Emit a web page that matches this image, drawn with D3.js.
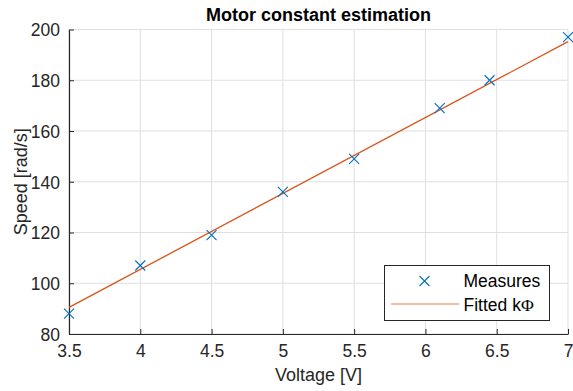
<!DOCTYPE html>
<html><head><meta charset="utf-8">
<script src="https://cdn.jsdelivr.net/npm/d3@7"></script>
<style>body{margin:0;background:#fff;} svg{display:block;font-family:"Liberation Sans",Arial,sans-serif;}</style>
</head><body>
<script>
const voltage = [3.5, 4, 4.5, 5, 5.5, 6.1, 6.45, 7];
const speed = [88, 107, 119, 136, 149, 169, 180, 197];
const fitX = [3.5, 7];
const fitY = [90.5, 195.2];
const xTicks = [3.5, 4, 4.5, 5, 5.5, 6, 6.5, 7];
const yTicks = [80, 100, 120, 140, 160, 180, 200];
const title = "Motor constant estimation";
const xLabel = "Voltage [V]";
const yLabel = "Speed [rad/s]";
const legendLabels = ["Measures", "Fitted kΦ"];

const W = 573, H = 391;
const m = {left: 69, right: 5, top: 29.5, bottom: 57};
const svg = d3.select("body").append("svg").attr("width", W).attr("height", H);
const x = d3.scaleLinear().domain([3.5, 7]).range([m.left, W - m.right]);
const y = d3.scaleLinear().domain([80, 200]).range([H - m.bottom, m.top]);
const axisCol = "#262626", gridCol = "#dfdfdf";
const blue = "#0072BD", orange = "#D95319";
const ff = '"Liberation Sans",Arial,sans-serif';

// grid
svg.append("g").selectAll("line").data(xTicks).join("line")
  .attr("x1", d => x(d)).attr("x2", d => x(d)).attr("y1", y(80)).attr("y2", y(200))
  .attr("stroke", gridCol).attr("stroke-width", 1);
svg.append("g").selectAll("line").data(yTicks).join("line")
  .attr("x1", x(3.5)).attr("x2", x(7)).attr("y1", d => y(d)).attr("y2", d => y(d))
  .attr("stroke", gridCol).attr("stroke-width", 1);

// axes
const xAxis = d3.axisBottom(x).tickValues(xTicks).tickSizeInner(-5).tickSizeOuter(0).tickPadding(11).tickFormat(d3.format("~g"));
const yAxis = d3.axisLeft(y).tickValues(yTicks).tickSizeInner(-5).tickSizeOuter(0).tickPadding(9).tickFormat(d3.format("~g"));
const gx = svg.append("g").attr("transform", `translate(0,${y(80)})`).call(xAxis);
const gy = svg.append("g").attr("transform", `translate(${x(3.5)},0)`).call(yAxis);
[gx, gy].forEach(g => {
  g.attr("font-size", 17.5).attr("font-family", ff);
  g.select(".domain").attr("stroke", axisCol).attr("stroke-width", 1.2);
  g.selectAll(".tick line").attr("stroke", axisCol).attr("stroke-width", 1);
  g.selectAll(".tick text").attr("fill", axisCol);
});
gx.selectAll(".tick text").attr("dy", "0.71em");
gy.selectAll(".tick text").attr("dy", "0.36em");

// fitted line
svg.append("path").datum(fitX.map((v, i) => [v, fitY[i]]))
  .attr("d", d3.line().x(d => x(d[0])).y(d => y(d[1])))
  .attr("fill", "none").attr("stroke", orange).attr("stroke-width", 1.3);

// markers
const s = 5;
const crossPath = (cx, cy) => `M${cx - s},${cy - s}L${cx + s},${cy + s}M${cx - s},${cy + s}L${cx + s},${cy - s}`;
svg.append("g").selectAll("path").data(voltage.map((v, i) => [v, speed[i]])).join("path")
  .attr("d", d => crossPath(x(d[0]), y(d[1])))
  .attr("stroke", blue).attr("stroke-width", 1.1).attr("fill", "none");

// title and labels
svg.append("text").attr("x", (x(3.5) + x(7)) / 2).attr("y", 21).attr("text-anchor", "middle")
  .attr("font-weight", "bold").attr("font-size", 18).attr("fill", "#000").text(title);
svg.append("text").attr("x", (x(3.5) + x(7)) / 2).attr("y", 381).attr("text-anchor", "middle")
  .attr("font-size", 18).attr("fill", axisCol).text(xLabel);
svg.append("text").attr("transform", `translate(27,${(y(80) + y(200)) / 2}) rotate(-90)`).attr("text-anchor", "middle")
  .attr("font-size", 18).attr("fill", axisCol).text(yLabel);

// legend
const lg = svg.append("g");
lg.append("rect").attr("x", 384.5).attr("y", 265.5).attr("width", 165).attr("height", 55)
  .attr("fill", "#fff").attr("stroke", axisCol).attr("stroke-width", 1);
lg.append("path").attr("d", crossPath(424.5, 281)).attr("stroke", blue).attr("stroke-width", 1.1).attr("fill", "none");
lg.append("line").attr("x1", 391).attr("x2", 459).attr("y1", 304).attr("y2", 304)
  .attr("stroke", orange).attr("stroke-width", 1.2).attr("stroke-opacity", 0.75);
lg.selectAll("text").data(legendLabels).join("text")
  .attr("x", 463.5).attr("y", (d, i) => 287 + i * 24)
  .attr("font-size", 17.5).attr("fill", "#000")
  .each(function(d) {
    const t = d3.select(this);
    const idx = d.indexOf("Φ");
    if (idx < 0) { t.text(d); return; }
    t.append("tspan").text(d.slice(0, idx));
    t.append("tspan").attr("font-family", '"Liberation Serif","DejaVu Serif",serif').text("Φ");
  });
</script>
</body></html>
